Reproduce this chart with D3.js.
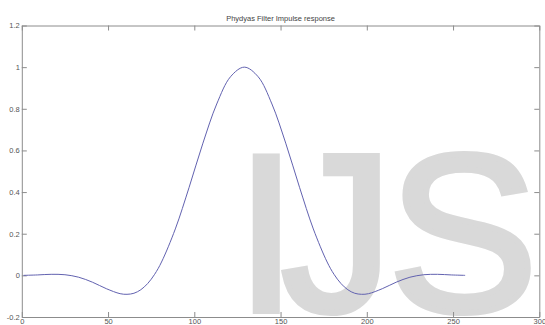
<!DOCTYPE html>
<html>
<head>
<meta charset="utf-8">
<script src="https://cdn.jsdelivr.net/npm/d3@7"></script>
<style>
  body { margin: 0; background: #fff; }
  svg { display: block; }
</style>
</head>
<body>
<svg id="chart" width="545" height="325"></svg>
<script>
// sample index (x) and filter amplitude (y)
var sampleX = [1, 9, 17, 25, 33, 41, 49, 57, 61, 65, 69, 73, 77, 81, 89, 97, 105, 113, 121, 129,
               137, 145, 153, 161, 169, 177, 181, 185, 189, 193, 197, 201, 209, 217, 225, 233, 241, 249, 257];
var amplitude = [0, 0.002, 0.005, 0.003, -0.009, -0.033, -0.064, -0.088, -0.091, -0.086, -0.069, -0.039, 0.005, 0.064,
                 0.223, 0.423, 0.635, 0.823, 0.954, 1.0,
                 0.954, 0.823, 0.635, 0.423, 0.223, 0.064, 0.005, -0.039, -0.069, -0.086, -0.091, -0.088,
                 -0.064, -0.033, -0.009, 0.003, 0.005, 0.002, 0];
var xTicks = [0, 50, 100, 150, 200, 250, 300];
var yTicks = [-0.2, 0, 0.2, 0.4, 0.6, 0.8, 1, 1.2];
var yTickLabels = ["-0.2", "0", "0.2", "0.4", "0.6", "0.8", "1", "1.2"];
var title = "Phydyas Filter Impulse response";

var svg = d3.select("#chart");
var plotLeft = 21.8, plotRight = 539.3, plotTop = 25.5, plotBottom = 317;

var x = d3.scaleLinear().domain([0, 300]).range([plotLeft, plotRight]);
var y = d3.scaleLinear().domain([-0.2, 1.2]).range([plotBottom, plotTop]);

// watermark letters behind the plot
var wm = svg.append("g")
    .attr("fill", "#d9d9d9")
    .attr("stroke", "#d9d9d9")
    .attr("stroke-width", 6)
    .style("font-family", "Liberation Sans, Arial, sans-serif")
    .style("font-size", "225px");
wm.append("text").attr("x", 235).attr("y", 311).text("I");
wm.append("text").attr("x", 281).attr("y", 311).text("J");
wm.append("text").attr("x", 388).attr("y", 311).text("S");

var axisColor = "#8c8c8c";

function styleAxis(g) {
    g.selectAll("path, line").attr("stroke", axisColor);
    g.selectAll("text")
        .attr("fill", "#555")
        .style("font-family", "Liberation Sans, Arial, sans-serif")
        .style("font-size", "7.5px");
}

svg.append("g")
    .attr("transform", "translate(0," + plotBottom + ")")
    .call(d3.axisBottom(x).tickValues(xTicks).tickSizeInner(-5).tickSizeOuter(0).tickPadding(2))
    .call(styleAxis);

svg.append("g")
    .attr("transform", "translate(0," + plotTop + ")")
    .call(d3.axisTop(x).tickValues(xTicks).tickSizeInner(-5).tickSizeOuter(0).tickFormat(""))
    .call(styleAxis);

svg.append("g")
    .attr("transform", "translate(" + plotLeft + ",0)")
    .call(d3.axisLeft(y).tickValues(yTicks).tickSizeInner(-5).tickSizeOuter(0).tickPadding(2)
        .tickFormat(function (d, i) { return yTickLabels[i]; }))
    .call(styleAxis);

svg.append("g")
    .attr("transform", "translate(" + plotRight + ",0)")
    .call(d3.axisRight(y).tickValues(yTicks).tickSizeInner(-5).tickSizeOuter(0).tickFormat(""))
    .call(styleAxis);

svg.selectAll(".domain").attr("fill", "none");

var line = d3.line()
    .x(function (d, i) { return x(sampleX[i]); })
    .y(function (d) { return y(d); })
    .curve(d3.curveCatmullRom);

svg.append("path")
    .attr("d", line(amplitude))
    .attr("fill", "none")
    .attr("stroke", "#6262b0")
    .attr("stroke-width", 1);

svg.append("text")
    .attr("x", (plotLeft + plotRight) / 2)
    .attr("y", 20.5)
    .attr("text-anchor", "middle")
    .attr("fill", "#444")
    .style("font-family", "Liberation Sans, Arial, sans-serif")
    .style("font-size", "7.5px")
    .text(title);
</script>
</body>
</html>
